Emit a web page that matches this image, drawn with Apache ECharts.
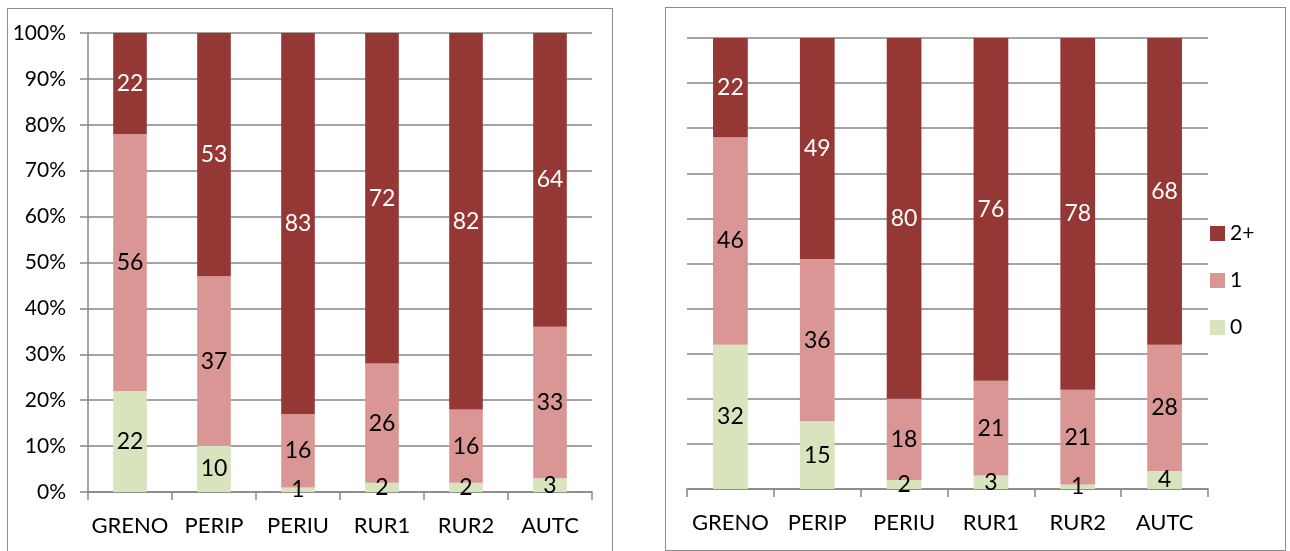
<!DOCTYPE html>
<html>
<head>
<meta charset="utf-8">
<script src="https://cdn.jsdelivr.net/npm/echarts@6/dist/echarts.min.js"></script>
<style>
  body { margin: 0; background: #fff; width: 1290px; height: 551px; overflow: hidden; position: relative; }
  .panel { position: absolute; border: 1.5px solid #8c8c8c; box-sizing: border-box; background: #fff; }
</style>
</head>
<body>
<div id="left" class="panel" style="left:7px; top:8px; width:606px; height:560px;"></div>
<div id="right" class="panel" style="left:665px; top:7px; width:621px; height:544px;"></div>
<script>
const categories = ['GRENO', 'PERIP', 'PERIU', 'RUR1', 'RUR2', 'AUTC']
const seriesNames = ['0', '1', '2+']
const colors = ['#D7E4BD', '#D99694', '#953735']
const labelColors = ['#000', '#000', '#fff']

// left panel
const left0 = [22, 10, 1, 2, 2, 3]
const left1 = [56, 37, 16, 26, 16, 33]
const left2 = [22, 53, 83, 72, 82, 64]

// right panel
const right0 = [32, 15, 2, 3, 1, 4]
const right1 = [46, 36, 18, 21, 21, 28]
const right2 = [22, 49, 80, 76, 78, 68]

const yTicks = [0, 10, 20, 30, 40, 50, 60, 70, 80, 90, 100]

const font = 'Lato, "Open Sans", sans-serif'

function makeSeries(data) {
  return data.map((d, i) => ({
    name: seriesNames[i],
    type: 'bar',
    stack: 'total',
    barWidth: '40%',
    data: d,
    itemStyle: { color: colors[i] },
    label: {
      show: true,
      position: 'inside',
      color: labelColors[i],
      fontSize: 23,
      fontFamily: font
    }
  }))
}

function buildOption(data, grid, showY, showLegend) {
  return {
    animation: false,
    textStyle: { fontFamily: font },
    grid: grid,
    legend: {
      show: showLegend,
      orient: 'vertical',
      left: 539,
      top: 210,
      itemWidth: 15,
      itemHeight: 15,
      itemGap: 26,
      icon: 'rect',
      data: ['2+', '1', '0'],
      textStyle: { fontSize: 21, lineHeight: 21, color: '#000', fontFamily: font }
    },
    xAxis: {
      type: 'category',
      data: categories,
      axisLine: { lineStyle: { color: '#868686', width: 1.5 } },
      axisTick: { show: true, length: 8, lineStyle: { color: '#868686', width: 1.5 } },
      axisLabel: { color: '#000', fontSize: 22, margin: 23, interval: 0, fontFamily: font }
    },
    yAxis: {
      type: 'value',
      min: 0,
      max: 100,
      interval: 10,
      axisLine: { show: showY, lineStyle: { color: '#868686', width: 1.5 } },
      axisTick: { show: showY, length: 8, lineStyle: { color: '#868686', width: 1.5 } },
      axisLabel: { show: showY, color: '#000', fontSize: 21, margin: 22, fontFamily: font,
        formatter: v => yTicks.includes(v) ? v + '%' : '' },
      splitLine: { lineStyle: { color: '#868686', width: 1.5 } }
    },
    series: makeSeries(data)
  }
}

const leftChart = echarts.init(document.getElementById('left'))
leftChart.setOption(buildOption([left0, left1, left2],
  { left: 80, top: 24, width: 504, height: 459 }, true, false))

const rightChart = echarts.init(document.getElementById('right'))
rightChart.setOption(buildOption([right0, right1, right2],
  { left: 21, top: 30, width: 521, height: 451 }, false, true))
</script>
</body>
</html>
